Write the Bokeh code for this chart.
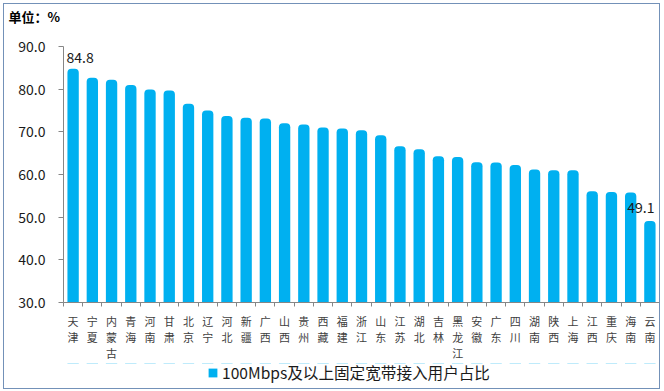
from bokeh.plotting import figure
from bokeh.layouts import column
from bokeh.models import Range1d, FixedTicker, Legend, LegendItem, ColumnDataSource, NumeralTickFormatter
from bokeh.core.properties import value
from bokeh.embed import file_html
from bokeh.resources import INLINE

provinces = ["天津", "宁夏", "内蒙古", "青海", "河南", "甘肃", "北京", "辽宁", "河北", "新疆",
             "广西", "山西", "贵州", "西藏", "福建", "浙江", "山东", "江苏", "湖北", "吉林",
             "黑龙江", "安徽", "广东", "四川", "湖南", "陕西", "上海", "江西", "重庆", "海南", "云南"]
shares = [84.8, 82.7, 82.2, 81.0, 79.9, 79.7, 76.6, 75.0, 73.7, 73.3,
          73.1, 72.0, 71.7, 71.0, 70.8, 70.4, 69.2, 66.6, 65.9, 64.3,
          64.1, 62.9, 62.8, 62.2, 61.2, 61.0, 61.0, 56.1, 55.9, 55.8, 49.1]
y_ticks = [30, 40, 50, 60, 70, 80, 90]
series_name = "100Mbps及以上固定宽带接入用户占比"
unit_title = "单位：%"

FONT = "Noto Sans CJK SC"
BAR = "#00B0F0"
n = len(provinces)
xs = list(range(n))
src = ColumnDataSource(dict(x=xs, top=shares, name=provinces))

# title strip
tf = figure(width=655, height=24, x_range=Range1d(0, 1), y_range=Range1d(0, 1),
            output_backend="svg", toolbar_location=None,
            x_axis_location=None, y_axis_location=None,
            min_border_left=0, min_border_right=0, min_border_top=0, min_border_bottom=0)
tf.xgrid.visible = False
tf.ygrid.visible = False
tf.outline_line_color = None
tf.title.text = unit_title
tf.title.align = "left"
tf.title.offset = -55
tf.title.text_font = FONT
tf.title.text_font_size = "13px"
tf.title.text_font_style = "bold"
tf.title.text_color = "#000000"
tf.title.standoff = 0

p = figure(width=655, height=335,
           x_range=Range1d(-0.5, n - 0.5), y_range=Range1d(y_ticks[0], y_ticks[-1]),
           output_backend="svg", toolbar_location=None,
           min_border_left=59, min_border_right=0, min_border_top=18, min_border_bottom=60)

r = p.vbar(x="x", top="top", bottom=y_ticks[0], width=0.59, source=src,
           fill_color=BAR, line_color=None, border_radius=(4, 4, 0, 0))

# data labels for first and last
p.text(x=[xs[0]], y=[shares[0]], text=[f"{shares[0]:.1f}"], x_offset=7, y_offset=-6,
       text_align="center", text_baseline="bottom", text_font=value(FONT),
       text_font_size="14px", text_color="#1a1a1a")
p.text(x=[xs[-1]], y=[shares[-1]], text=[f"{shares[-1]:.1f}"], x_offset=-9, y_offset=-8,
       text_align="center", text_baseline="bottom", text_font=value(FONT),
       text_font_size="14px", text_color="#1a1a1a")

p.xgrid.visible = False
p.ygrid.visible = False
p.outline_line_color = None

ya = p.yaxis[0]
ya.ticker = FixedTicker(ticks=y_ticks)
ya.formatter = NumeralTickFormatter(format="0.0")
ya.axis_line_color = "#868686"
ya.major_tick_line_color = "#868686"
ya.major_tick_out = 5
ya.major_tick_in = 0
ya.minor_tick_line_color = None
ya.major_label_text_font = FONT
ya.major_label_text_font_size = "14px"
ya.major_label_text_color = "#1a1a1a"
ya.major_label_standoff = 13

xa = p.xaxis[0]
xa.ticker = FixedTicker(ticks=xs, minor_ticks=[i - 0.5 for i in range(n + 1)])
xa.major_label_overrides = {i: "\n".join(name) for i, name in zip(xs, provinces)}
xa.axis_line_color = "#868686"
xa.major_tick_line_color = None
xa.minor_tick_line_color = "#868686"
xa.minor_tick_out = 4
xa.minor_tick_in = 0
xa.major_label_text_font = FONT
xa.major_label_text_font_size = "11px"
xa.major_label_text_color = "#404040"
xa.major_label_text_line_height = 1.0
xa.major_label_standoff = 4

# legend strip below the chart (its bars fall outside its range; only the swatch shows)
lf = figure(width=655, height=25, x_range=Range1d(-0.5, n - 0.5), y_range=Range1d(0, 1),
            output_backend="svg", toolbar_location=None,
            x_axis_location=None, y_axis_location=None,
            min_border_left=0, min_border_right=0, min_border_top=0, min_border_bottom=0)
lf.xgrid.visible = False
lf.ygrid.visible = False
lf.outline_line_color = None
swatch = lf.vbar(x="x", top="top", bottom=y_ticks[0], width=0.59, source=src,
                 fill_color=BAR, line_color=None)
legend = Legend(items=[LegendItem(label=series_name, renderers=[swatch])],
                location=(144, 5), orientation="horizontal",
                glyph_width=11, glyph_height=11, label_standoff=4, label_height=16,
                label_text_font=FONT, label_text_font_size="15.6px", label_text_color="#1a1a1a",
                padding=0, margin=0, border_line_color=None, background_fill_alpha=0)
lf.add_layout(legend)

layout = column(tf, p, lf, spacing=0)
layout.styles = {"border": "1px solid #7391b8", "margin-left": "3px", "margin-top": "3px"}

open("out.html", "w").write(file_html(layout, INLINE))
